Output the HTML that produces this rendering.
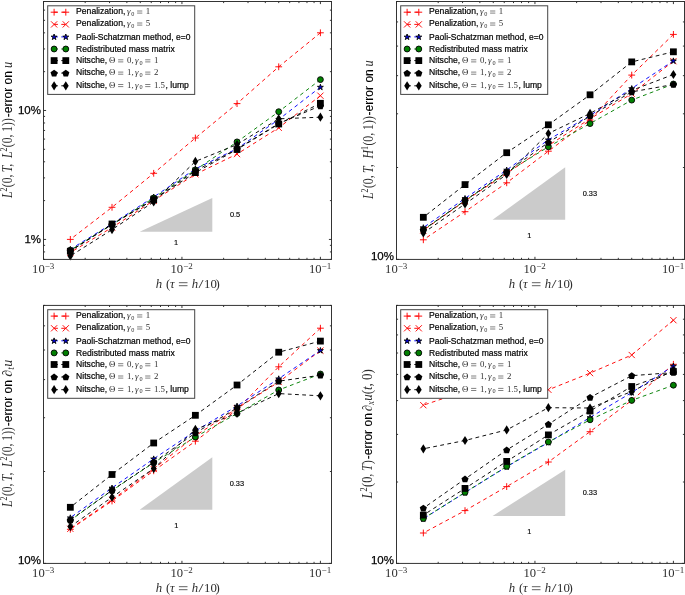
<!DOCTYPE html>
<html><head><meta charset="utf-8"><title>Convergence curves</title>
<style>html,body{margin:0;padding:0;background:#fff;}svg{display:block;}</style></head>
<body>
<svg width="685" height="595" viewBox="0 0 685 595">
<rect width="685" height="595" fill="#fff"/>
<g opacity="0.999">
<polygon points="139.7,231.7 212.3,231.7 212.3,198" fill="#cbcbcb"/>
<text x="176.1" y="244.6" text-anchor="middle" font-family='"Liberation Sans", sans-serif' font-size="7.4" fill="#000" stroke="#000" stroke-width="0.15">1</text>
<text x="235.1" y="216.9" text-anchor="middle" font-family='"Liberation Sans", sans-serif' font-size="7.4" fill="#000" stroke="#000" stroke-width="0.15">0.5</text>
<path d="M320.4 32.8L278.72 66.8L237.04 103.6L195.37 138L153.69 173.3L112.01 207.3L70.33 239.4" stroke="#ff0000" stroke-width="0.95" stroke-dasharray="3.8 3.4" fill="none"/>
<path d="M317 32.8H323.8M320.4 29.4V36.2" stroke="#ff0000" stroke-width="0.95" fill="none"/>
<path d="M275.32 66.8H282.12M278.72 63.4V70.2" stroke="#ff0000" stroke-width="0.95" fill="none"/>
<path d="M233.64 103.6H240.44M237.04 100.2V107" stroke="#ff0000" stroke-width="0.95" fill="none"/>
<path d="M191.97 138H198.77M195.37 134.6V141.4" stroke="#ff0000" stroke-width="0.95" fill="none"/>
<path d="M150.29 173.3H157.09M153.69 169.9V176.7" stroke="#ff0000" stroke-width="0.95" fill="none"/>
<path d="M108.61 207.3H115.41M112.01 203.9V210.7" stroke="#ff0000" stroke-width="0.95" fill="none"/>
<path d="M66.93 239.4H73.73M70.33 236V242.8" stroke="#ff0000" stroke-width="0.95" fill="none"/>
<path d="M320.4 95.7L278.72 127.8L237.04 154.1L195.37 174.3L153.69 200.6L112.01 227.5L70.33 252.5" stroke="#ff0000" stroke-width="0.95" stroke-dasharray="3.8 3.4" fill="none"/>
<path d="M317.3 92.6L323.5 98.8M317.3 98.8L323.5 92.6" stroke="#ff0000" stroke-width="0.95" fill="none"/>
<path d="M275.62 124.7L281.82 130.9M275.62 130.9L281.82 124.7" stroke="#ff0000" stroke-width="0.95" fill="none"/>
<path d="M233.94 151L240.14 157.2M233.94 157.2L240.14 151" stroke="#ff0000" stroke-width="0.95" fill="none"/>
<path d="M192.27 171.2L198.47 177.4M192.27 177.4L198.47 171.2" stroke="#ff0000" stroke-width="0.95" fill="none"/>
<path d="M150.59 197.5L156.79 203.7M150.59 203.7L156.79 197.5" stroke="#ff0000" stroke-width="0.95" fill="none"/>
<path d="M108.91 224.4L115.11 230.6M108.91 230.6L115.11 224.4" stroke="#ff0000" stroke-width="0.95" fill="none"/>
<path d="M67.23 249.4L73.43 255.6M67.23 255.6L73.43 249.4" stroke="#ff0000" stroke-width="0.95" fill="none"/>
<path d="M320.4 87.1L278.72 119.5L237.04 148.7L195.37 168.9L153.69 197L112.01 223.8L70.33 249.3" stroke="#0000ff" stroke-width="0.95" stroke-dasharray="3.8 3.4" fill="none"/>
<polygon points="320.4,84.2 321.11,86.33 323.35,86.34 321.54,87.67 322.22,89.81 320.4,88.5 318.58,89.81 319.26,87.67 317.45,86.34 319.69,86.33" fill="#0000e0" stroke="#000" stroke-width="0.9" stroke-linejoin="miter"/>
<polygon points="278.72,116.6 279.43,118.73 281.67,118.74 279.86,120.07 280.54,122.21 278.72,120.9 276.9,122.21 277.58,120.07 275.77,118.74 278.02,118.73" fill="#0000e0" stroke="#000" stroke-width="0.9" stroke-linejoin="miter"/>
<polygon points="237.04,145.8 237.75,147.93 239.99,147.94 238.19,149.27 238.87,151.41 237.04,150.1 235.22,151.41 235.9,149.27 234.1,147.94 236.34,147.93" fill="#0000e0" stroke="#000" stroke-width="0.9" stroke-linejoin="miter"/>
<polygon points="195.37,166 196.07,168.13 198.32,168.14 196.51,169.47 197.19,171.61 195.37,170.3 193.55,171.61 194.23,169.47 192.42,168.14 194.66,168.13" fill="#0000e0" stroke="#000" stroke-width="0.9" stroke-linejoin="miter"/>
<polygon points="153.69,194.1 154.39,196.23 156.64,196.24 154.83,197.57 155.51,199.71 153.69,198.4 151.87,199.71 152.55,197.57 150.74,196.24 152.98,196.23" fill="#0000e0" stroke="#000" stroke-width="0.9" stroke-linejoin="miter"/>
<polygon points="112.01,220.9 112.72,223.03 114.96,223.04 113.15,224.37 113.83,226.51 112.01,225.2 110.19,226.51 110.87,224.37 109.06,223.04 111.31,223.03" fill="#0000e0" stroke="#000" stroke-width="0.9" stroke-linejoin="miter"/>
<polygon points="70.33,246.4 71.04,248.53 73.28,248.54 71.48,249.87 72.16,252.01 70.33,250.7 68.51,252.01 69.19,249.87 67.39,248.54 69.63,248.53" fill="#0000e0" stroke="#000" stroke-width="0.9" stroke-linejoin="miter"/>
<path d="M320.4 79.6L278.72 111.7L237.04 141.9L195.37 170L153.69 198L112.01 224.5L70.33 250.2" stroke="#008000" stroke-width="0.95" stroke-dasharray="3.8 3.4" fill="none"/>
<circle cx="320.4" cy="79.6" r="2.95" fill="#008000" stroke="#000" stroke-width="0.9"/>
<circle cx="278.72" cy="111.7" r="2.95" fill="#008000" stroke="#000" stroke-width="0.9"/>
<circle cx="237.04" cy="141.9" r="2.95" fill="#008000" stroke="#000" stroke-width="0.9"/>
<circle cx="195.37" cy="170" r="2.95" fill="#008000" stroke="#000" stroke-width="0.9"/>
<circle cx="153.69" cy="198" r="2.95" fill="#008000" stroke="#000" stroke-width="0.9"/>
<circle cx="112.01" cy="224.5" r="2.95" fill="#008000" stroke="#000" stroke-width="0.9"/>
<circle cx="70.33" cy="250.2" r="2.95" fill="#008000" stroke="#000" stroke-width="0.9"/>
<path d="M320.4 103.3L278.72 124L237.04 149.5L195.37 172.6L153.69 199.7L112.01 224L70.33 251.2" stroke="#000000" stroke-width="0.95" stroke-dasharray="3.8 3.4" fill="none"/>
<rect x="317" y="99.9" width="6.8" height="6.8" fill="#000"/>
<rect x="275.32" y="120.6" width="6.8" height="6.8" fill="#000"/>
<rect x="233.64" y="146.1" width="6.8" height="6.8" fill="#000"/>
<rect x="191.97" y="169.2" width="6.8" height="6.8" fill="#000"/>
<rect x="150.29" y="196.3" width="6.8" height="6.8" fill="#000"/>
<rect x="108.61" y="220.6" width="6.8" height="6.8" fill="#000"/>
<rect x="66.93" y="247.8" width="6.8" height="6.8" fill="#000"/>
<path d="M320.4 105.8L278.72 123.5L237.04 149L195.37 170.8L153.69 199.5L112.01 224.5L70.33 251" stroke="#000000" stroke-width="0.95" stroke-dasharray="3.8 3.4" fill="none"/>
<polygon points="320.4,102.35 323.97,104.94 322.6,109.13 318.2,109.13 316.83,104.94" fill="#000"/>
<polygon points="278.72,120.05 282.29,122.64 280.93,126.83 276.52,126.83 275.16,122.64" fill="#000"/>
<polygon points="237.04,145.55 240.61,148.14 239.25,152.33 234.84,152.33 233.48,148.14" fill="#000"/>
<polygon points="195.37,167.35 198.93,169.94 197.57,174.13 193.16,174.13 191.8,169.94" fill="#000"/>
<polygon points="153.69,196.05 157.26,198.64 155.89,202.83 151.49,202.83 150.12,198.64" fill="#000"/>
<polygon points="112.01,221.05 115.58,223.64 114.22,227.83 109.81,227.83 108.45,223.64" fill="#000"/>
<polygon points="70.33,247.55 73.9,250.14 72.54,254.33 68.13,254.33 66.77,250.14" fill="#000"/>
<path d="M320.4 117.2L278.72 118.8L237.04 144.5L195.37 161.4L153.69 201.9L112.01 229.6L70.33 256" stroke="#000000" stroke-width="0.95" stroke-dasharray="3.8 3.4" fill="none"/>
<polygon points="320.4,112.6 323.3,117.2 320.4,121.8 317.5,117.2" fill="#000"/>
<polygon points="278.72,114.2 281.62,118.8 278.72,123.4 275.82,118.8" fill="#000"/>
<polygon points="237.04,139.9 239.94,144.5 237.04,149.1 234.14,144.5" fill="#000"/>
<polygon points="195.37,156.8 198.27,161.4 195.37,166 192.47,161.4" fill="#000"/>
<polygon points="153.69,197.3 156.59,201.9 153.69,206.5 150.79,201.9" fill="#000"/>
<polygon points="112.01,225 114.91,229.6 112.01,234.2 109.11,229.6" fill="#000"/>
<polygon points="70.33,251.4 73.23,256 70.33,260.6 67.43,256" fill="#000"/>
<path d="M43.5 259.4v-2.6M43.5 1.5v2.6M85.18 259.4v-1.6M85.18 1.5v1.6M109.56 259.4v-1.6M109.56 1.5v1.6M126.86 259.4v-1.6M126.86 1.5v1.6M140.27 259.4v-1.6M140.27 1.5v1.6M151.24 259.4v-1.6M151.24 1.5v1.6M160.5 259.4v-1.6M160.5 1.5v1.6M168.53 259.4v-1.6M168.53 1.5v1.6M175.61 259.4v-1.6M175.61 1.5v1.6M181.95 259.4v-2.6M181.95 1.5v2.6M223.63 259.4v-1.6M223.63 1.5v1.6M248.01 259.4v-1.6M248.01 1.5v1.6M265.31 259.4v-1.6M265.31 1.5v1.6M278.72 259.4v-1.6M278.72 1.5v1.6M289.69 259.4v-1.6M289.69 1.5v1.6M298.95 259.4v-1.6M298.95 1.5v1.6M306.98 259.4v-1.6M306.98 1.5v1.6M314.06 259.4v-1.6M314.06 1.5v1.6M320.4 259.4v-2.6M320.4 1.5v2.6M43.5 259.4h1.6M331.5 259.4h-1.6M43.5 251.92h1.6M331.5 251.92h-1.6M43.5 245.33h1.6M331.5 245.33h-1.6M43.5 239.43h2.6M331.5 239.43h-2.6M43.5 200.61h1.6M331.5 200.61h-1.6M43.5 177.9h1.6M331.5 177.9h-1.6M43.5 161.79h1.6M331.5 161.79h-1.6M43.5 149.29h1.6M331.5 149.29h-1.6M43.5 139.08h1.6M331.5 139.08h-1.6M43.5 130.45h1.6M331.5 130.45h-1.6M43.5 122.97h1.6M331.5 122.97h-1.6M43.5 116.38h1.6M331.5 116.38h-1.6M43.5 110.48h2.6M331.5 110.48h-2.6M43.5 71.66h1.6M331.5 71.66h-1.6M43.5 48.95h1.6M331.5 48.95h-1.6M43.5 32.84h1.6M331.5 32.84h-1.6M43.5 20.34h1.6M331.5 20.34h-1.6M43.5 10.13h1.6M331.5 10.13h-1.6M43.5 1.5h1.6M331.5 1.5h-1.6" stroke="#000" stroke-width="0.8" fill="none"/>
<rect x="47.7" y="5.8" width="147" height="88.6" fill="#fff" stroke="#444" stroke-width="1"/>
<path d="M54.1 12.2H65.8" stroke="#ff0000" stroke-width="0.95" stroke-dasharray="3.8 3.4" fill="none"/>
<path d="M50.7 12.2H57.5M54.1 8.8V15.6" stroke="#ff0000" stroke-width="0.95" fill="none"/>
<path d="M62.4 12.2H69.2M65.8 8.8V15.6" stroke="#ff0000" stroke-width="0.95" fill="none"/>
<text y="14.3" font-family='"Liberation Sans", sans-serif' font-size="8.6" fill="#000" stroke="#000" stroke-width="0.2"><tspan x="76.1">Penalization,</tspan><tspan x="126.9" dy="0" font-family='"Liberation Serif", serif' font-size="8.8" fill="#2e2e2e" stroke="none" font-style="italic">γ</tspan><tspan x="131.3" dy="1.5" font-family='"Liberation Serif", serif' font-size="6.2" fill="#2e2e2e" stroke="none">0</tspan><tspan x="145.8" dy="-1.5" font-family='"Liberation Serif", serif' font-size="8.8" fill="#2e2e2e" stroke="none">1</tspan></text>
<path d="M54.1 24.4H65.8" stroke="#ff0000" stroke-width="0.95" stroke-dasharray="3.8 3.4" fill="none"/>
<path d="M51 21.3L57.2 27.5M51 27.5L57.2 21.3" stroke="#ff0000" stroke-width="0.95" fill="none"/>
<path d="M62.7 21.3L68.9 27.5M62.7 27.5L68.9 21.3" stroke="#ff0000" stroke-width="0.95" fill="none"/>
<text y="26.3" font-family='"Liberation Sans", sans-serif' font-size="8.6" fill="#000" stroke="#000" stroke-width="0.2"><tspan x="76.1">Penalization,</tspan><tspan x="126.9" dy="0" font-family='"Liberation Serif", serif' font-size="8.8" fill="#2e2e2e" stroke="none" font-style="italic">γ</tspan><tspan x="131.3" dy="1.5" font-family='"Liberation Serif", serif' font-size="6.2" fill="#2e2e2e" stroke="none">0</tspan><tspan x="145.8" dy="-1.5" font-family='"Liberation Serif", serif' font-size="8.8" fill="#2e2e2e" stroke="none">5</tspan></text>
<path d="M54.1 36.9H65.8" stroke="#0000ff" stroke-width="0.95" stroke-dasharray="3.8 3.4" fill="none"/>
<polygon points="54.1,34 54.81,36.13 57.05,36.14 55.24,37.47 55.92,39.61 54.1,38.3 52.28,39.61 52.96,37.47 51.15,36.14 53.39,36.13" fill="#0000e0" stroke="#000" stroke-width="0.9" stroke-linejoin="miter"/>
<polygon points="65.8,34 66.51,36.13 68.75,36.14 66.94,37.47 67.62,39.61 65.8,38.3 63.98,39.61 64.66,37.47 62.85,36.14 65.09,36.13" fill="#0000e0" stroke="#000" stroke-width="0.9" stroke-linejoin="miter"/>
<text y="39.9" font-family='"Liberation Sans", sans-serif' font-size="8.6" fill="#000" stroke="#000" stroke-width="0.2"><tspan x="76.1" textLength="114.3" lengthAdjust="spacingAndGlyphs">Paoli-Schatzman method, e=0</tspan></text>
<path d="M54.1 49H65.8" stroke="#008000" stroke-width="0.95" stroke-dasharray="3.8 3.4" fill="none"/>
<circle cx="54.1" cy="49" r="2.95" fill="#008000" stroke="#000" stroke-width="0.9"/>
<circle cx="65.8" cy="49" r="2.95" fill="#008000" stroke="#000" stroke-width="0.9"/>
<text y="51.7" font-family='"Liberation Sans", sans-serif' font-size="8.6" fill="#000" stroke="#000" stroke-width="0.2"><tspan x="76.1" textLength="98.6" lengthAdjust="spacingAndGlyphs">Redistributed mass matrix</tspan></text>
<path d="M54.1 60.6H65.8" stroke="#000000" stroke-width="0.95" stroke-dasharray="3.8 3.4" fill="none"/>
<rect x="50.7" y="57.2" width="6.8" height="6.8" fill="#000"/>
<rect x="62.4" y="57.2" width="6.8" height="6.8" fill="#000"/>
<text y="63.1" font-family='"Liberation Sans", sans-serif' font-size="8.6" fill="#000" stroke="#000" stroke-width="0.2"><tspan x="76.1">Nitsche,</tspan><tspan x="108.9" dy="0" font-family='"Liberation Serif", serif' font-size="8.8" fill="#2e2e2e" stroke="none">Θ</tspan><tspan x="127" dy="0" font-family='"Liberation Serif", serif' font-size="8.8" fill="#2e2e2e" stroke="none">0,</tspan><tspan x="135" dy="0" font-family='"Liberation Serif", serif' font-size="8.8" fill="#2e2e2e" stroke="none" font-style="italic">γ</tspan><tspan x="139.4" dy="1.5" font-family='"Liberation Serif", serif' font-size="6.2" fill="#2e2e2e" stroke="none">0</tspan><tspan x="153.9" dy="-1.5" font-family='"Liberation Serif", serif' font-size="8.8" fill="#2e2e2e" stroke="none">1</tspan></text>
<path d="M54.1 73.1H65.8" stroke="#000000" stroke-width="0.95" stroke-dasharray="3.8 3.4" fill="none"/>
<polygon points="54.1,69.65 57.67,72.24 56.3,76.43 51.9,76.43 50.53,72.24" fill="#000"/>
<polygon points="65.8,69.65 69.37,72.24 68,76.43 63.6,76.43 62.23,72.24" fill="#000"/>
<text y="75.4" font-family='"Liberation Sans", sans-serif' font-size="8.6" fill="#000" stroke="#000" stroke-width="0.2"><tspan x="76.1">Nitsche,</tspan><tspan x="108.9" dy="0" font-family='"Liberation Serif", serif' font-size="8.8" fill="#2e2e2e" stroke="none">Θ</tspan><tspan x="127" dy="0" font-family='"Liberation Serif", serif' font-size="8.8" fill="#2e2e2e" stroke="none">1,</tspan><tspan x="135" dy="0" font-family='"Liberation Serif", serif' font-size="8.8" fill="#2e2e2e" stroke="none" font-style="italic">γ</tspan><tspan x="139.4" dy="1.5" font-family='"Liberation Serif", serif' font-size="6.2" fill="#2e2e2e" stroke="none">0</tspan><tspan x="153.9" dy="-1.5" font-family='"Liberation Serif", serif' font-size="8.8" fill="#2e2e2e" stroke="none">2</tspan></text>
<path d="M54.1 85.8H65.8" stroke="#000000" stroke-width="0.95" stroke-dasharray="3.8 3.4" fill="none"/>
<polygon points="54.1,81.2 57,85.8 54.1,90.4 51.2,85.8" fill="#000"/>
<polygon points="65.8,81.2 68.7,85.8 65.8,90.4 62.9,85.8" fill="#000"/>
<text y="87.8" font-family='"Liberation Sans", sans-serif' font-size="8.6" fill="#000" stroke="#000" stroke-width="0.2"><tspan x="76.1">Nitsche,</tspan><tspan x="108.9" dy="0" font-family='"Liberation Serif", serif' font-size="8.8" fill="#2e2e2e" stroke="none">Θ</tspan><tspan x="127" dy="0" font-family='"Liberation Serif", serif' font-size="8.8" fill="#2e2e2e" stroke="none">1,</tspan><tspan x="135" dy="0" font-family='"Liberation Serif", serif' font-size="8.8" fill="#2e2e2e" stroke="none" font-style="italic">γ</tspan><tspan x="139.4" dy="1.5" font-family='"Liberation Serif", serif' font-size="6.2" fill="#2e2e2e" stroke="none">0</tspan><tspan x="153.9" dy="-1.5" font-family='"Liberation Serif", serif' font-size="8.8" fill="#2e2e2e" stroke="none">1.5</tspan><tspan x="165.5">, lump</tspan></text>
<path d="M145.2 84.5h5.2M145.2 86.6h5.2" stroke="#2e2e2e" stroke-width="0.6" fill="none"/>
<path d="M118.1 84.5h5.2M118.1 86.6h5.2" stroke="#2e2e2e" stroke-width="0.6" fill="none"/>
<path d="M145.2 72.1h5.2M145.2 74.2h5.2" stroke="#2e2e2e" stroke-width="0.6" fill="none"/>
<path d="M118.1 72.1h5.2M118.1 74.2h5.2" stroke="#2e2e2e" stroke-width="0.6" fill="none"/>
<path d="M145.2 59.8h5.2M145.2 61.9h5.2" stroke="#2e2e2e" stroke-width="0.6" fill="none"/>
<path d="M118.1 59.8h5.2M118.1 61.9h5.2" stroke="#2e2e2e" stroke-width="0.6" fill="none"/>
<path d="M137.1 23h5.2M137.1 25.1h5.2" stroke="#2e2e2e" stroke-width="0.6" fill="none"/>
<path d="M137.1 11h5.2M137.1 13.1h5.2" stroke="#2e2e2e" stroke-width="0.6" fill="none"/>
<rect x="43.5" y="1.5" width="288" height="257.9" fill="none" stroke="#2a2a2a" stroke-width="0.95"/>
<text x="41" y="113.68" text-anchor="end" font-family='"Liberation Sans", sans-serif' font-size="11.5" fill="#000" stroke="#000" stroke-width="0.25">10%</text>
<text x="41" y="242.63" text-anchor="end" font-family='"Liberation Sans", sans-serif' font-size="11.5" fill="#000" stroke="#000" stroke-width="0.25">1%</text>
<text x="43.2" y="273.4" text-anchor="middle" font-family='"Liberation Serif", serif' font-size="12.6" fill="#2e2e2e">10<tspan font-size="9" dy="-4.5">−3</tspan></text>
<text x="181.65" y="273.4" text-anchor="middle" font-family='"Liberation Serif", serif' font-size="12.6" fill="#2e2e2e">10<tspan font-size="9" dy="-4.5">−2</tspan></text>
<text x="320.1" y="273.4" text-anchor="middle" font-family='"Liberation Serif", serif' font-size="12.6" fill="#2e2e2e">10<tspan font-size="9" dy="-4.5">−1</tspan></text>
<path d="M178.9 282.7h8.6M178.9 285.7h8.6" stroke="#2e2e2e" stroke-width="0.75" fill="none"/>
<text y="287.5" font-family='"Liberation Serif", serif' font-size="12.8" fill="#2e2e2e"><tspan x="155.8" font-style="italic">h</tspan><tspan x="166.1">(</tspan><tspan x="169.9" font-style="italic">τ</tspan><tspan x="191.8" font-style="italic">h</tspan><tspan x="198.4" textLength="5" lengthAdjust="spacingAndGlyphs">/</tspan><tspan x="204">10</tspan><tspan x="215.4">)</tspan></text>
<g transform="translate(11.7 198) rotate(-90)">
<text x="0" y="0" font-family='"Liberation Serif", serif' font-size="13.8" fill="#2e2e2e" textLength="79.8" lengthAdjust="spacingAndGlyphs"><tspan font-style="italic">L</tspan><tspan font-size="9.4" dy="-5">2</tspan><tspan dy="5" font-size="2"> </tspan>(0,<tspan font-style="italic"> T,</tspan><tspan font-style="italic"> L</tspan><tspan font-size="9.4" dy="-5">2</tspan><tspan dy="5" font-size="2"> </tspan>(0, 1))</text>
<text x="80.8" y="0" font-family='"Liberation Sans", sans-serif' font-size="12" fill="#000" stroke="#000" stroke-width="0.12" textLength="46.2" lengthAdjust="spacingAndGlyphs">-error on</text>
<text x="130" y="0" font-family='"Liberation Serif", serif' font-size="13.8" fill="#2e2e2e" textLength="6.2" lengthAdjust="spacingAndGlyphs"><tspan font-style="italic">u</tspan></text>
</g>
<polygon points="492.6,219.7 565.2,219.7 565.2,167.2" fill="#cbcbcb"/>
<text x="529.2" y="237.9" text-anchor="middle" font-family='"Liberation Sans", sans-serif' font-size="7.4" fill="#000" stroke="#000" stroke-width="0.15">1</text>
<text x="589.9" y="195.5" text-anchor="middle" font-family='"Liberation Sans", sans-serif' font-size="7.4" fill="#000" stroke="#000" stroke-width="0.15">0.33</text>
<path d="M673.4 34.4L631.72 75.1L590.04 120L548.37 151.2L506.69 182.8L465.01 211.7L423.33 239.8" stroke="#ff0000" stroke-width="0.95" stroke-dasharray="3.8 3.4" fill="none"/>
<path d="M670 34.4H676.8M673.4 31V37.8" stroke="#ff0000" stroke-width="0.95" fill="none"/>
<path d="M628.32 75.1H635.12M631.72 71.7V78.5" stroke="#ff0000" stroke-width="0.95" fill="none"/>
<path d="M586.64 120H593.44M590.04 116.6V123.4" stroke="#ff0000" stroke-width="0.95" fill="none"/>
<path d="M544.97 151.2H551.77M548.37 147.8V154.6" stroke="#ff0000" stroke-width="0.95" fill="none"/>
<path d="M503.29 182.8H510.09M506.69 179.4V186.2" stroke="#ff0000" stroke-width="0.95" fill="none"/>
<path d="M461.61 211.7H468.41M465.01 208.3V215.1" stroke="#ff0000" stroke-width="0.95" fill="none"/>
<path d="M419.93 239.8H426.73M423.33 236.4V243.2" stroke="#ff0000" stroke-width="0.95" fill="none"/>
<path d="M673.4 61.2L631.72 93.7L590.04 118.8L548.37 145.5L506.69 173.3L465.01 201L423.33 230.3" stroke="#ff0000" stroke-width="0.95" stroke-dasharray="3.8 3.4" fill="none"/>
<path d="M670.3 58.1L676.5 64.3M670.3 64.3L676.5 58.1" stroke="#ff0000" stroke-width="0.95" fill="none"/>
<path d="M628.62 90.6L634.82 96.8M628.62 96.8L634.82 90.6" stroke="#ff0000" stroke-width="0.95" fill="none"/>
<path d="M586.94 115.7L593.14 121.9M586.94 121.9L593.14 115.7" stroke="#ff0000" stroke-width="0.95" fill="none"/>
<path d="M545.27 142.4L551.47 148.6M545.27 148.6L551.47 142.4" stroke="#ff0000" stroke-width="0.95" fill="none"/>
<path d="M503.59 170.2L509.79 176.4M503.59 176.4L509.79 170.2" stroke="#ff0000" stroke-width="0.95" fill="none"/>
<path d="M461.91 197.9L468.11 204.1M461.91 204.1L468.11 197.9" stroke="#ff0000" stroke-width="0.95" fill="none"/>
<path d="M420.23 227.2L426.43 233.4M420.23 233.4L426.43 227.2" stroke="#ff0000" stroke-width="0.95" fill="none"/>
<path d="M673.4 60.8L631.72 88.5L590.04 115.5L548.37 139.8L506.69 170L465.01 198.4L423.33 227.6" stroke="#0000ff" stroke-width="0.95" stroke-dasharray="3.8 3.4" fill="none"/>
<polygon points="673.4,57.9 674.11,60.03 676.35,60.04 674.54,61.37 675.22,63.51 673.4,62.2 671.58,63.51 672.26,61.37 670.45,60.04 672.69,60.03" fill="#0000e0" stroke="#000" stroke-width="0.9" stroke-linejoin="miter"/>
<polygon points="631.72,85.6 632.43,87.73 634.67,87.74 632.86,89.07 633.54,91.21 631.72,89.9 629.9,91.21 630.58,89.07 628.77,87.74 631.02,87.73" fill="#0000e0" stroke="#000" stroke-width="0.9" stroke-linejoin="miter"/>
<polygon points="590.04,112.6 590.75,114.73 592.99,114.74 591.19,116.07 591.87,118.21 590.04,116.9 588.22,118.21 588.9,116.07 587.1,114.74 589.34,114.73" fill="#0000e0" stroke="#000" stroke-width="0.9" stroke-linejoin="miter"/>
<polygon points="548.37,136.9 549.07,139.03 551.32,139.04 549.51,140.37 550.19,142.51 548.37,141.2 546.55,142.51 547.23,140.37 545.42,139.04 547.66,139.03" fill="#0000e0" stroke="#000" stroke-width="0.9" stroke-linejoin="miter"/>
<polygon points="506.69,167.1 507.39,169.23 509.64,169.24 507.83,170.57 508.51,172.71 506.69,171.4 504.87,172.71 505.55,170.57 503.74,169.24 505.98,169.23" fill="#0000e0" stroke="#000" stroke-width="0.9" stroke-linejoin="miter"/>
<polygon points="465.01,195.5 465.72,197.63 467.96,197.64 466.15,198.97 466.83,201.11 465.01,199.8 463.19,201.11 463.87,198.97 462.06,197.64 464.31,197.63" fill="#0000e0" stroke="#000" stroke-width="0.9" stroke-linejoin="miter"/>
<polygon points="423.33,224.7 424.04,226.83 426.28,226.84 424.48,228.17 425.16,230.31 423.33,229 421.51,230.31 422.19,228.17 420.39,226.84 422.63,226.83" fill="#0000e0" stroke="#000" stroke-width="0.9" stroke-linejoin="miter"/>
<path d="M673.4 84L631.72 100.1L590.04 123.6L548.37 146.8L506.69 172.5L465.01 200.5L423.33 229.8" stroke="#008000" stroke-width="0.95" stroke-dasharray="3.8 3.4" fill="none"/>
<circle cx="673.4" cy="84" r="2.95" fill="#008000" stroke="#000" stroke-width="0.9"/>
<circle cx="631.72" cy="100.1" r="2.95" fill="#008000" stroke="#000" stroke-width="0.9"/>
<circle cx="590.04" cy="123.6" r="2.95" fill="#008000" stroke="#000" stroke-width="0.9"/>
<circle cx="548.37" cy="146.8" r="2.95" fill="#008000" stroke="#000" stroke-width="0.9"/>
<circle cx="506.69" cy="172.5" r="2.95" fill="#008000" stroke="#000" stroke-width="0.9"/>
<circle cx="465.01" cy="200.5" r="2.95" fill="#008000" stroke="#000" stroke-width="0.9"/>
<circle cx="423.33" cy="229.8" r="2.95" fill="#008000" stroke="#000" stroke-width="0.9"/>
<path d="M673.4 51.8L631.72 61.9L590.04 94.8L548.37 124.8L506.69 152.7L465.01 184.6L423.33 217.3" stroke="#000000" stroke-width="0.95" stroke-dasharray="3.8 3.4" fill="none"/>
<rect x="670" y="48.4" width="6.8" height="6.8" fill="#000"/>
<rect x="628.32" y="58.5" width="6.8" height="6.8" fill="#000"/>
<rect x="586.64" y="91.4" width="6.8" height="6.8" fill="#000"/>
<rect x="544.97" y="121.4" width="6.8" height="6.8" fill="#000"/>
<rect x="503.29" y="149.3" width="6.8" height="6.8" fill="#000"/>
<rect x="461.61" y="181.2" width="6.8" height="6.8" fill="#000"/>
<rect x="419.93" y="213.9" width="6.8" height="6.8" fill="#000"/>
<path d="M673.4 84.5L631.72 91.9L590.04 116L548.37 142.5L506.69 172L465.01 200.5L423.33 230" stroke="#000000" stroke-width="0.95" stroke-dasharray="3.8 3.4" fill="none"/>
<polygon points="673.4,81.05 676.97,83.64 675.6,87.83 671.2,87.83 669.83,83.64" fill="#000"/>
<polygon points="631.72,88.45 635.29,91.04 633.93,95.23 629.52,95.23 628.16,91.04" fill="#000"/>
<polygon points="590.04,112.55 593.61,115.14 592.25,119.33 587.84,119.33 586.48,115.14" fill="#000"/>
<polygon points="548.37,139.05 551.93,141.64 550.57,145.83 546.16,145.83 544.8,141.64" fill="#000"/>
<polygon points="506.69,168.55 510.26,171.14 508.89,175.33 504.49,175.33 503.12,171.14" fill="#000"/>
<polygon points="465.01,197.05 468.58,199.64 467.22,203.83 462.81,203.83 461.45,199.64" fill="#000"/>
<polygon points="423.33,226.55 426.9,229.14 425.54,233.33 421.13,233.33 419.77,229.14" fill="#000"/>
<path d="M673.4 74.5L631.72 90.4L590.04 113.4L548.37 133.5L506.69 174.5L465.01 204L423.33 233" stroke="#000000" stroke-width="0.95" stroke-dasharray="3.8 3.4" fill="none"/>
<polygon points="673.4,69.9 676.3,74.5 673.4,79.1 670.5,74.5" fill="#000"/>
<polygon points="631.72,85.8 634.62,90.4 631.72,95 628.82,90.4" fill="#000"/>
<polygon points="590.04,108.8 592.94,113.4 590.04,118 587.14,113.4" fill="#000"/>
<polygon points="548.37,128.9 551.27,133.5 548.37,138.1 545.47,133.5" fill="#000"/>
<polygon points="506.69,169.9 509.59,174.5 506.69,179.1 503.79,174.5" fill="#000"/>
<polygon points="465.01,199.4 467.91,204 465.01,208.6 462.11,204" fill="#000"/>
<polygon points="423.33,228.4 426.23,233 423.33,237.6 420.43,233" fill="#000"/>
<path d="M396.5 259.4v-2.6M396.5 1.5v2.6M438.18 259.4v-1.6M438.18 1.5v1.6M462.56 259.4v-1.6M462.56 1.5v1.6M479.86 259.4v-1.6M479.86 1.5v1.6M493.27 259.4v-1.6M493.27 1.5v1.6M504.24 259.4v-1.6M504.24 1.5v1.6M513.5 259.4v-1.6M513.5 1.5v1.6M521.53 259.4v-1.6M521.53 1.5v1.6M528.61 259.4v-1.6M528.61 1.5v1.6M534.95 259.4v-2.6M534.95 1.5v2.6M576.63 259.4v-1.6M576.63 1.5v1.6M601.01 259.4v-1.6M601.01 1.5v1.6M618.31 259.4v-1.6M618.31 1.5v1.6M631.72 259.4v-1.6M631.72 1.5v1.6M642.69 259.4v-1.6M642.69 1.5v1.6M651.95 259.4v-1.6M651.95 1.5v1.6M659.98 259.4v-1.6M659.98 1.5v1.6M667.06 259.4v-1.6M667.06 1.5v1.6M673.4 259.4v-2.6M673.4 1.5v2.6M396.5 259.4h2.6M684.5 259.4h-2.6M396.5 167.53h1.6M684.5 167.53h-1.6M396.5 113.8h1.6M684.5 113.8h-1.6M396.5 75.67h1.6M684.5 75.67h-1.6M396.5 46.09h1.6M684.5 46.09h-1.6M396.5 21.93h1.6M684.5 21.93h-1.6M396.5 1.5h1.6M684.5 1.5h-1.6" stroke="#000" stroke-width="0.8" fill="none"/>
<rect x="400.7" y="5.8" width="147" height="88.6" fill="#fff" stroke="#444" stroke-width="1"/>
<path d="M407.1 12.2H418.8" stroke="#ff0000" stroke-width="0.95" stroke-dasharray="3.8 3.4" fill="none"/>
<path d="M403.7 12.2H410.5M407.1 8.8V15.6" stroke="#ff0000" stroke-width="0.95" fill="none"/>
<path d="M415.4 12.2H422.2M418.8 8.8V15.6" stroke="#ff0000" stroke-width="0.95" fill="none"/>
<text y="14.3" font-family='"Liberation Sans", sans-serif' font-size="8.6" fill="#000" stroke="#000" stroke-width="0.2"><tspan x="429.1">Penalization,</tspan><tspan x="479.9" dy="0" font-family='"Liberation Serif", serif' font-size="8.8" fill="#2e2e2e" stroke="none" font-style="italic">γ</tspan><tspan x="484.3" dy="1.5" font-family='"Liberation Serif", serif' font-size="6.2" fill="#2e2e2e" stroke="none">0</tspan><tspan x="498.8" dy="-1.5" font-family='"Liberation Serif", serif' font-size="8.8" fill="#2e2e2e" stroke="none">1</tspan></text>
<path d="M407.1 24.4H418.8" stroke="#ff0000" stroke-width="0.95" stroke-dasharray="3.8 3.4" fill="none"/>
<path d="M404 21.3L410.2 27.5M404 27.5L410.2 21.3" stroke="#ff0000" stroke-width="0.95" fill="none"/>
<path d="M415.7 21.3L421.9 27.5M415.7 27.5L421.9 21.3" stroke="#ff0000" stroke-width="0.95" fill="none"/>
<text y="26.3" font-family='"Liberation Sans", sans-serif' font-size="8.6" fill="#000" stroke="#000" stroke-width="0.2"><tspan x="429.1">Penalization,</tspan><tspan x="479.9" dy="0" font-family='"Liberation Serif", serif' font-size="8.8" fill="#2e2e2e" stroke="none" font-style="italic">γ</tspan><tspan x="484.3" dy="1.5" font-family='"Liberation Serif", serif' font-size="6.2" fill="#2e2e2e" stroke="none">0</tspan><tspan x="498.8" dy="-1.5" font-family='"Liberation Serif", serif' font-size="8.8" fill="#2e2e2e" stroke="none">5</tspan></text>
<path d="M407.1 36.9H418.8" stroke="#0000ff" stroke-width="0.95" stroke-dasharray="3.8 3.4" fill="none"/>
<polygon points="407.1,34 407.81,36.13 410.05,36.14 408.24,37.47 408.92,39.61 407.1,38.3 405.28,39.61 405.96,37.47 404.15,36.14 406.39,36.13" fill="#0000e0" stroke="#000" stroke-width="0.9" stroke-linejoin="miter"/>
<polygon points="418.8,34 419.51,36.13 421.75,36.14 419.94,37.47 420.62,39.61 418.8,38.3 416.98,39.61 417.66,37.47 415.85,36.14 418.09,36.13" fill="#0000e0" stroke="#000" stroke-width="0.9" stroke-linejoin="miter"/>
<text y="39.9" font-family='"Liberation Sans", sans-serif' font-size="8.6" fill="#000" stroke="#000" stroke-width="0.2"><tspan x="429.1" textLength="114.3" lengthAdjust="spacingAndGlyphs">Paoli-Schatzman method, e=0</tspan></text>
<path d="M407.1 49H418.8" stroke="#008000" stroke-width="0.95" stroke-dasharray="3.8 3.4" fill="none"/>
<circle cx="407.1" cy="49" r="2.95" fill="#008000" stroke="#000" stroke-width="0.9"/>
<circle cx="418.8" cy="49" r="2.95" fill="#008000" stroke="#000" stroke-width="0.9"/>
<text y="51.7" font-family='"Liberation Sans", sans-serif' font-size="8.6" fill="#000" stroke="#000" stroke-width="0.2"><tspan x="429.1" textLength="98.6" lengthAdjust="spacingAndGlyphs">Redistributed mass matrix</tspan></text>
<path d="M407.1 60.6H418.8" stroke="#000000" stroke-width="0.95" stroke-dasharray="3.8 3.4" fill="none"/>
<rect x="403.7" y="57.2" width="6.8" height="6.8" fill="#000"/>
<rect x="415.4" y="57.2" width="6.8" height="6.8" fill="#000"/>
<text y="63.1" font-family='"Liberation Sans", sans-serif' font-size="8.6" fill="#000" stroke="#000" stroke-width="0.2"><tspan x="429.1">Nitsche,</tspan><tspan x="461.9" dy="0" font-family='"Liberation Serif", serif' font-size="8.8" fill="#2e2e2e" stroke="none">Θ</tspan><tspan x="480" dy="0" font-family='"Liberation Serif", serif' font-size="8.8" fill="#2e2e2e" stroke="none">0,</tspan><tspan x="488" dy="0" font-family='"Liberation Serif", serif' font-size="8.8" fill="#2e2e2e" stroke="none" font-style="italic">γ</tspan><tspan x="492.4" dy="1.5" font-family='"Liberation Serif", serif' font-size="6.2" fill="#2e2e2e" stroke="none">0</tspan><tspan x="506.9" dy="-1.5" font-family='"Liberation Serif", serif' font-size="8.8" fill="#2e2e2e" stroke="none">1</tspan></text>
<path d="M407.1 73.1H418.8" stroke="#000000" stroke-width="0.95" stroke-dasharray="3.8 3.4" fill="none"/>
<polygon points="407.1,69.65 410.67,72.24 409.3,76.43 404.9,76.43 403.53,72.24" fill="#000"/>
<polygon points="418.8,69.65 422.37,72.24 421,76.43 416.6,76.43 415.23,72.24" fill="#000"/>
<text y="75.4" font-family='"Liberation Sans", sans-serif' font-size="8.6" fill="#000" stroke="#000" stroke-width="0.2"><tspan x="429.1">Nitsche,</tspan><tspan x="461.9" dy="0" font-family='"Liberation Serif", serif' font-size="8.8" fill="#2e2e2e" stroke="none">Θ</tspan><tspan x="480" dy="0" font-family='"Liberation Serif", serif' font-size="8.8" fill="#2e2e2e" stroke="none">1,</tspan><tspan x="488" dy="0" font-family='"Liberation Serif", serif' font-size="8.8" fill="#2e2e2e" stroke="none" font-style="italic">γ</tspan><tspan x="492.4" dy="1.5" font-family='"Liberation Serif", serif' font-size="6.2" fill="#2e2e2e" stroke="none">0</tspan><tspan x="506.9" dy="-1.5" font-family='"Liberation Serif", serif' font-size="8.8" fill="#2e2e2e" stroke="none">2</tspan></text>
<path d="M407.1 85.8H418.8" stroke="#000000" stroke-width="0.95" stroke-dasharray="3.8 3.4" fill="none"/>
<polygon points="407.1,81.2 410,85.8 407.1,90.4 404.2,85.8" fill="#000"/>
<polygon points="418.8,81.2 421.7,85.8 418.8,90.4 415.9,85.8" fill="#000"/>
<text y="87.8" font-family='"Liberation Sans", sans-serif' font-size="8.6" fill="#000" stroke="#000" stroke-width="0.2"><tspan x="429.1">Nitsche,</tspan><tspan x="461.9" dy="0" font-family='"Liberation Serif", serif' font-size="8.8" fill="#2e2e2e" stroke="none">Θ</tspan><tspan x="480" dy="0" font-family='"Liberation Serif", serif' font-size="8.8" fill="#2e2e2e" stroke="none">1,</tspan><tspan x="488" dy="0" font-family='"Liberation Serif", serif' font-size="8.8" fill="#2e2e2e" stroke="none" font-style="italic">γ</tspan><tspan x="492.4" dy="1.5" font-family='"Liberation Serif", serif' font-size="6.2" fill="#2e2e2e" stroke="none">0</tspan><tspan x="506.9" dy="-1.5" font-family='"Liberation Serif", serif' font-size="8.8" fill="#2e2e2e" stroke="none">1.5</tspan><tspan x="518.5">, lump</tspan></text>
<path d="M498.2 84.5h5.2M498.2 86.6h5.2" stroke="#2e2e2e" stroke-width="0.6" fill="none"/>
<path d="M471.1 84.5h5.2M471.1 86.6h5.2" stroke="#2e2e2e" stroke-width="0.6" fill="none"/>
<path d="M498.2 72.1h5.2M498.2 74.2h5.2" stroke="#2e2e2e" stroke-width="0.6" fill="none"/>
<path d="M471.1 72.1h5.2M471.1 74.2h5.2" stroke="#2e2e2e" stroke-width="0.6" fill="none"/>
<path d="M498.2 59.8h5.2M498.2 61.9h5.2" stroke="#2e2e2e" stroke-width="0.6" fill="none"/>
<path d="M471.1 59.8h5.2M471.1 61.9h5.2" stroke="#2e2e2e" stroke-width="0.6" fill="none"/>
<path d="M490.1 23h5.2M490.1 25.1h5.2" stroke="#2e2e2e" stroke-width="0.6" fill="none"/>
<path d="M490.1 11h5.2M490.1 13.1h5.2" stroke="#2e2e2e" stroke-width="0.6" fill="none"/>
<rect x="396.5" y="1.5" width="288" height="257.9" fill="none" stroke="#2a2a2a" stroke-width="0.95"/>
<text x="394" y="259.8" text-anchor="end" font-family='"Liberation Sans", sans-serif' font-size="11.5" fill="#000" stroke="#000" stroke-width="0.25">10%</text>
<text x="396.2" y="273.4" text-anchor="middle" font-family='"Liberation Serif", serif' font-size="12.6" fill="#2e2e2e">10<tspan font-size="9" dy="-4.5">−3</tspan></text>
<text x="534.65" y="273.4" text-anchor="middle" font-family='"Liberation Serif", serif' font-size="12.6" fill="#2e2e2e">10<tspan font-size="9" dy="-4.5">−2</tspan></text>
<text x="673.1" y="273.4" text-anchor="middle" font-family='"Liberation Serif", serif' font-size="12.6" fill="#2e2e2e">10<tspan font-size="9" dy="-4.5">−1</tspan></text>
<path d="M531.9 282.7h8.6M531.9 285.7h8.6" stroke="#2e2e2e" stroke-width="0.75" fill="none"/>
<text y="287.5" font-family='"Liberation Serif", serif' font-size="12.8" fill="#2e2e2e"><tspan x="508.8" font-style="italic">h</tspan><tspan x="519.1">(</tspan><tspan x="522.9" font-style="italic">τ</tspan><tspan x="544.8" font-style="italic">h</tspan><tspan x="551.4" textLength="5" lengthAdjust="spacingAndGlyphs">/</tspan><tspan x="557">10</tspan><tspan x="568.4">)</tspan></text>
<g transform="translate(373.2 199) rotate(-90)">
<text x="0" y="0" font-family='"Liberation Serif", serif' font-size="13.8" fill="#2e2e2e" textLength="82.8" lengthAdjust="spacingAndGlyphs"><tspan font-style="italic">L</tspan><tspan font-size="9.4" dy="-5">2</tspan><tspan dy="5" font-size="2"> </tspan>(0,<tspan font-style="italic"> T,</tspan><tspan font-style="italic"> H</tspan><tspan font-size="9.4" dy="-5">1</tspan><tspan dy="5" font-size="2"> </tspan>(0, 1))</text>
<text x="83.6" y="0" font-family='"Liberation Sans", sans-serif' font-size="12" fill="#000" stroke="#000" stroke-width="0.12" textLength="46.2" lengthAdjust="spacingAndGlyphs">-error on</text>
<text x="132.6" y="0" font-family='"Liberation Serif", serif' font-size="13.8" fill="#2e2e2e" textLength="6.2" lengthAdjust="spacingAndGlyphs"><tspan font-style="italic">u</tspan></text>
</g>
<polygon points="139.7,509.7 212.3,509.7 212.3,457.2" fill="#cbcbcb"/>
<text x="176.3" y="528.4" text-anchor="middle" font-family='"Liberation Sans", sans-serif' font-size="7.4" fill="#000" stroke="#000" stroke-width="0.15">1</text>
<text x="236.9" y="485.9" text-anchor="middle" font-family='"Liberation Sans", sans-serif' font-size="7.4" fill="#000" stroke="#000" stroke-width="0.15">0.33</text>
<path d="M320.4 328.2L278.72 366.8L237.04 409.5L195.37 441.2L153.69 470.8L112.01 501L70.33 529.3" stroke="#ff0000" stroke-width="0.95" stroke-dasharray="3.8 3.4" fill="none"/>
<path d="M317 328.2H323.8M320.4 324.8V331.6" stroke="#ff0000" stroke-width="0.95" fill="none"/>
<path d="M275.32 366.8H282.12M278.72 363.4V370.2" stroke="#ff0000" stroke-width="0.95" fill="none"/>
<path d="M233.64 409.5H240.44M237.04 406.1V412.9" stroke="#ff0000" stroke-width="0.95" fill="none"/>
<path d="M191.97 441.2H198.77M195.37 437.8V444.6" stroke="#ff0000" stroke-width="0.95" fill="none"/>
<path d="M150.29 470.8H157.09M153.69 467.4V474.2" stroke="#ff0000" stroke-width="0.95" fill="none"/>
<path d="M108.61 501H115.41M112.01 497.6V504.4" stroke="#ff0000" stroke-width="0.95" fill="none"/>
<path d="M66.93 529.3H73.73M70.33 525.9V532.7" stroke="#ff0000" stroke-width="0.95" fill="none"/>
<path d="M320.4 350.6L278.72 382L237.04 408.5L195.37 435.8L153.69 469L112.01 500L70.33 528.8" stroke="#ff0000" stroke-width="0.95" stroke-dasharray="3.8 3.4" fill="none"/>
<path d="M317.3 347.5L323.5 353.7M317.3 353.7L323.5 347.5" stroke="#ff0000" stroke-width="0.95" fill="none"/>
<path d="M275.62 378.9L281.82 385.1M275.62 385.1L281.82 378.9" stroke="#ff0000" stroke-width="0.95" fill="none"/>
<path d="M233.94 405.4L240.14 411.6M233.94 411.6L240.14 405.4" stroke="#ff0000" stroke-width="0.95" fill="none"/>
<path d="M192.27 432.7L198.47 438.9M192.27 438.9L198.47 432.7" stroke="#ff0000" stroke-width="0.95" fill="none"/>
<path d="M150.59 465.9L156.79 472.1M150.59 472.1L156.79 465.9" stroke="#ff0000" stroke-width="0.95" fill="none"/>
<path d="M108.91 496.9L115.11 503.1M108.91 503.1L115.11 496.9" stroke="#ff0000" stroke-width="0.95" fill="none"/>
<path d="M67.23 525.7L73.43 531.9M67.23 531.9L73.43 525.7" stroke="#ff0000" stroke-width="0.95" fill="none"/>
<path d="M320.4 350.4L278.72 378.7L237.04 406L195.37 431L153.69 458.8L112.01 487.9L70.33 517.7" stroke="#0000ff" stroke-width="0.95" stroke-dasharray="3.8 3.4" fill="none"/>
<polygon points="320.4,347.5 321.11,349.63 323.35,349.64 321.54,350.97 322.22,353.11 320.4,351.8 318.58,353.11 319.26,350.97 317.45,349.64 319.69,349.63" fill="#0000e0" stroke="#000" stroke-width="0.9" stroke-linejoin="miter"/>
<polygon points="278.72,375.8 279.43,377.93 281.67,377.94 279.86,379.27 280.54,381.41 278.72,380.1 276.9,381.41 277.58,379.27 275.77,377.94 278.02,377.93" fill="#0000e0" stroke="#000" stroke-width="0.9" stroke-linejoin="miter"/>
<polygon points="237.04,403.1 237.75,405.23 239.99,405.24 238.19,406.57 238.87,408.71 237.04,407.4 235.22,408.71 235.9,406.57 234.1,405.24 236.34,405.23" fill="#0000e0" stroke="#000" stroke-width="0.9" stroke-linejoin="miter"/>
<polygon points="195.37,428.1 196.07,430.23 198.32,430.24 196.51,431.57 197.19,433.71 195.37,432.4 193.55,433.71 194.23,431.57 192.42,430.24 194.66,430.23" fill="#0000e0" stroke="#000" stroke-width="0.9" stroke-linejoin="miter"/>
<polygon points="153.69,455.9 154.39,458.03 156.64,458.04 154.83,459.37 155.51,461.51 153.69,460.2 151.87,461.51 152.55,459.37 150.74,458.04 152.98,458.03" fill="#0000e0" stroke="#000" stroke-width="0.9" stroke-linejoin="miter"/>
<polygon points="112.01,485 112.72,487.13 114.96,487.14 113.15,488.47 113.83,490.61 112.01,489.3 110.19,490.61 110.87,488.47 109.06,487.14 111.31,487.13" fill="#0000e0" stroke="#000" stroke-width="0.9" stroke-linejoin="miter"/>
<polygon points="70.33,514.8 71.04,516.93 73.28,516.94 71.48,518.27 72.16,520.41 70.33,519.1 68.51,520.41 69.19,518.27 67.39,516.94 69.63,516.93" fill="#0000e0" stroke="#000" stroke-width="0.9" stroke-linejoin="miter"/>
<path d="M320.4 374L278.72 390L237.04 413.5L195.37 437L153.69 462.7L112.01 490.5L70.33 520.4" stroke="#008000" stroke-width="0.95" stroke-dasharray="3.8 3.4" fill="none"/>
<circle cx="320.4" cy="374" r="2.95" fill="#008000" stroke="#000" stroke-width="0.9"/>
<circle cx="278.72" cy="390" r="2.95" fill="#008000" stroke="#000" stroke-width="0.9"/>
<circle cx="237.04" cy="413.5" r="2.95" fill="#008000" stroke="#000" stroke-width="0.9"/>
<circle cx="195.37" cy="437" r="2.95" fill="#008000" stroke="#000" stroke-width="0.9"/>
<circle cx="153.69" cy="462.7" r="2.95" fill="#008000" stroke="#000" stroke-width="0.9"/>
<circle cx="112.01" cy="490.5" r="2.95" fill="#008000" stroke="#000" stroke-width="0.9"/>
<circle cx="70.33" cy="520.4" r="2.95" fill="#008000" stroke="#000" stroke-width="0.9"/>
<path d="M320.4 341.1L278.72 352.2L237.04 385L195.37 415.3L153.69 443L112.01 474.5L70.33 507.3" stroke="#000000" stroke-width="0.95" stroke-dasharray="3.8 3.4" fill="none"/>
<rect x="317" y="337.7" width="6.8" height="6.8" fill="#000"/>
<rect x="275.32" y="348.8" width="6.8" height="6.8" fill="#000"/>
<rect x="233.64" y="381.6" width="6.8" height="6.8" fill="#000"/>
<rect x="191.97" y="411.9" width="6.8" height="6.8" fill="#000"/>
<rect x="150.29" y="439.6" width="6.8" height="6.8" fill="#000"/>
<rect x="108.61" y="471.1" width="6.8" height="6.8" fill="#000"/>
<rect x="66.93" y="503.9" width="6.8" height="6.8" fill="#000"/>
<path d="M320.4 375.2L278.72 381.2L237.04 408L195.37 433L153.69 462.3L112.01 490.3L70.33 520" stroke="#000000" stroke-width="0.95" stroke-dasharray="3.8 3.4" fill="none"/>
<polygon points="320.4,371.75 323.97,374.34 322.6,378.53 318.2,378.53 316.83,374.34" fill="#000"/>
<polygon points="278.72,377.75 282.29,380.34 280.93,384.53 276.52,384.53 275.16,380.34" fill="#000"/>
<polygon points="237.04,404.55 240.61,407.14 239.25,411.33 234.84,411.33 233.48,407.14" fill="#000"/>
<polygon points="195.37,429.55 198.93,432.14 197.57,436.33 193.16,436.33 191.8,432.14" fill="#000"/>
<polygon points="153.69,458.85 157.26,461.44 155.89,465.63 151.49,465.63 150.12,461.44" fill="#000"/>
<polygon points="112.01,486.85 115.58,489.44 114.22,493.63 109.81,493.63 108.45,489.44" fill="#000"/>
<polygon points="70.33,516.55 73.9,519.14 72.54,523.33 68.13,523.33 66.77,519.14" fill="#000"/>
<path d="M320.4 395.8L278.72 393.6L237.04 413.3L195.37 429.4L153.69 468.6L112.01 497.2L70.33 526.6" stroke="#000000" stroke-width="0.95" stroke-dasharray="3.8 3.4" fill="none"/>
<polygon points="320.4,391.2 323.3,395.8 320.4,400.4 317.5,395.8" fill="#000"/>
<polygon points="278.72,389 281.62,393.6 278.72,398.2 275.82,393.6" fill="#000"/>
<polygon points="237.04,408.7 239.94,413.3 237.04,417.9 234.14,413.3" fill="#000"/>
<polygon points="195.37,424.8 198.27,429.4 195.37,434 192.47,429.4" fill="#000"/>
<polygon points="153.69,464 156.59,468.6 153.69,473.2 150.79,468.6" fill="#000"/>
<polygon points="112.01,492.6 114.91,497.2 112.01,501.8 109.11,497.2" fill="#000"/>
<polygon points="70.33,522 73.23,526.6 70.33,531.2 67.43,526.6" fill="#000"/>
<path d="M43.5 563.4v-2.6M43.5 305.4v2.6M85.18 563.4v-1.6M85.18 305.4v1.6M109.56 563.4v-1.6M109.56 305.4v1.6M126.86 563.4v-1.6M126.86 305.4v1.6M140.27 563.4v-1.6M140.27 305.4v1.6M151.24 563.4v-1.6M151.24 305.4v1.6M160.5 563.4v-1.6M160.5 305.4v1.6M168.53 563.4v-1.6M168.53 305.4v1.6M175.61 563.4v-1.6M175.61 305.4v1.6M181.95 563.4v-2.6M181.95 305.4v2.6M223.63 563.4v-1.6M223.63 305.4v1.6M248.01 563.4v-1.6M248.01 305.4v1.6M265.31 563.4v-1.6M265.31 305.4v1.6M278.72 563.4v-1.6M278.72 305.4v1.6M289.69 563.4v-1.6M289.69 305.4v1.6M298.95 563.4v-1.6M298.95 305.4v1.6M306.98 563.4v-1.6M306.98 305.4v1.6M314.06 563.4v-1.6M314.06 305.4v1.6M320.4 563.4v-2.6M320.4 305.4v2.6M43.5 563.4h2.6M331.5 563.4h-2.6M43.5 471.5h1.6M331.5 471.5h-1.6M43.5 417.74h1.6M331.5 417.74h-1.6M43.5 379.6h1.6M331.5 379.6h-1.6M43.5 350.01h1.6M331.5 350.01h-1.6M43.5 325.84h1.6M331.5 325.84h-1.6M43.5 305.4h1.6M331.5 305.4h-1.6" stroke="#000" stroke-width="0.8" fill="none"/>
<rect x="47.7" y="309.7" width="147" height="88.6" fill="#fff" stroke="#444" stroke-width="1"/>
<path d="M54.1 316.1H65.8" stroke="#ff0000" stroke-width="0.95" stroke-dasharray="3.8 3.4" fill="none"/>
<path d="M50.7 316.1H57.5M54.1 312.7V319.5" stroke="#ff0000" stroke-width="0.95" fill="none"/>
<path d="M62.4 316.1H69.2M65.8 312.7V319.5" stroke="#ff0000" stroke-width="0.95" fill="none"/>
<text y="318.2" font-family='"Liberation Sans", sans-serif' font-size="8.6" fill="#000" stroke="#000" stroke-width="0.2"><tspan x="76.1">Penalization,</tspan><tspan x="126.9" dy="0" font-family='"Liberation Serif", serif' font-size="8.8" fill="#2e2e2e" stroke="none" font-style="italic">γ</tspan><tspan x="131.3" dy="1.5" font-family='"Liberation Serif", serif' font-size="6.2" fill="#2e2e2e" stroke="none">0</tspan><tspan x="145.8" dy="-1.5" font-family='"Liberation Serif", serif' font-size="8.8" fill="#2e2e2e" stroke="none">1</tspan></text>
<path d="M54.1 328.3H65.8" stroke="#ff0000" stroke-width="0.95" stroke-dasharray="3.8 3.4" fill="none"/>
<path d="M51 325.2L57.2 331.4M51 331.4L57.2 325.2" stroke="#ff0000" stroke-width="0.95" fill="none"/>
<path d="M62.7 325.2L68.9 331.4M62.7 331.4L68.9 325.2" stroke="#ff0000" stroke-width="0.95" fill="none"/>
<text y="330.2" font-family='"Liberation Sans", sans-serif' font-size="8.6" fill="#000" stroke="#000" stroke-width="0.2"><tspan x="76.1">Penalization,</tspan><tspan x="126.9" dy="0" font-family='"Liberation Serif", serif' font-size="8.8" fill="#2e2e2e" stroke="none" font-style="italic">γ</tspan><tspan x="131.3" dy="1.5" font-family='"Liberation Serif", serif' font-size="6.2" fill="#2e2e2e" stroke="none">0</tspan><tspan x="145.8" dy="-1.5" font-family='"Liberation Serif", serif' font-size="8.8" fill="#2e2e2e" stroke="none">5</tspan></text>
<path d="M54.1 340.8H65.8" stroke="#0000ff" stroke-width="0.95" stroke-dasharray="3.8 3.4" fill="none"/>
<polygon points="54.1,337.9 54.81,340.03 57.05,340.04 55.24,341.37 55.92,343.51 54.1,342.2 52.28,343.51 52.96,341.37 51.15,340.04 53.39,340.03" fill="#0000e0" stroke="#000" stroke-width="0.9" stroke-linejoin="miter"/>
<polygon points="65.8,337.9 66.51,340.03 68.75,340.04 66.94,341.37 67.62,343.51 65.8,342.2 63.98,343.51 64.66,341.37 62.85,340.04 65.09,340.03" fill="#0000e0" stroke="#000" stroke-width="0.9" stroke-linejoin="miter"/>
<text y="343.8" font-family='"Liberation Sans", sans-serif' font-size="8.6" fill="#000" stroke="#000" stroke-width="0.2"><tspan x="76.1" textLength="114.3" lengthAdjust="spacingAndGlyphs">Paoli-Schatzman method, e=0</tspan></text>
<path d="M54.1 352.9H65.8" stroke="#008000" stroke-width="0.95" stroke-dasharray="3.8 3.4" fill="none"/>
<circle cx="54.1" cy="352.9" r="2.95" fill="#008000" stroke="#000" stroke-width="0.9"/>
<circle cx="65.8" cy="352.9" r="2.95" fill="#008000" stroke="#000" stroke-width="0.9"/>
<text y="355.6" font-family='"Liberation Sans", sans-serif' font-size="8.6" fill="#000" stroke="#000" stroke-width="0.2"><tspan x="76.1" textLength="98.6" lengthAdjust="spacingAndGlyphs">Redistributed mass matrix</tspan></text>
<path d="M54.1 364.5H65.8" stroke="#000000" stroke-width="0.95" stroke-dasharray="3.8 3.4" fill="none"/>
<rect x="50.7" y="361.1" width="6.8" height="6.8" fill="#000"/>
<rect x="62.4" y="361.1" width="6.8" height="6.8" fill="#000"/>
<text y="367" font-family='"Liberation Sans", sans-serif' font-size="8.6" fill="#000" stroke="#000" stroke-width="0.2"><tspan x="76.1">Nitsche,</tspan><tspan x="108.9" dy="0" font-family='"Liberation Serif", serif' font-size="8.8" fill="#2e2e2e" stroke="none">Θ</tspan><tspan x="127" dy="0" font-family='"Liberation Serif", serif' font-size="8.8" fill="#2e2e2e" stroke="none">0,</tspan><tspan x="135" dy="0" font-family='"Liberation Serif", serif' font-size="8.8" fill="#2e2e2e" stroke="none" font-style="italic">γ</tspan><tspan x="139.4" dy="1.5" font-family='"Liberation Serif", serif' font-size="6.2" fill="#2e2e2e" stroke="none">0</tspan><tspan x="153.9" dy="-1.5" font-family='"Liberation Serif", serif' font-size="8.8" fill="#2e2e2e" stroke="none">1</tspan></text>
<path d="M54.1 377H65.8" stroke="#000000" stroke-width="0.95" stroke-dasharray="3.8 3.4" fill="none"/>
<polygon points="54.1,373.55 57.67,376.14 56.3,380.33 51.9,380.33 50.53,376.14" fill="#000"/>
<polygon points="65.8,373.55 69.37,376.14 68,380.33 63.6,380.33 62.23,376.14" fill="#000"/>
<text y="379.3" font-family='"Liberation Sans", sans-serif' font-size="8.6" fill="#000" stroke="#000" stroke-width="0.2"><tspan x="76.1">Nitsche,</tspan><tspan x="108.9" dy="0" font-family='"Liberation Serif", serif' font-size="8.8" fill="#2e2e2e" stroke="none">Θ</tspan><tspan x="127" dy="0" font-family='"Liberation Serif", serif' font-size="8.8" fill="#2e2e2e" stroke="none">1,</tspan><tspan x="135" dy="0" font-family='"Liberation Serif", serif' font-size="8.8" fill="#2e2e2e" stroke="none" font-style="italic">γ</tspan><tspan x="139.4" dy="1.5" font-family='"Liberation Serif", serif' font-size="6.2" fill="#2e2e2e" stroke="none">0</tspan><tspan x="153.9" dy="-1.5" font-family='"Liberation Serif", serif' font-size="8.8" fill="#2e2e2e" stroke="none">2</tspan></text>
<path d="M54.1 389.7H65.8" stroke="#000000" stroke-width="0.95" stroke-dasharray="3.8 3.4" fill="none"/>
<polygon points="54.1,385.1 57,389.7 54.1,394.3 51.2,389.7" fill="#000"/>
<polygon points="65.8,385.1 68.7,389.7 65.8,394.3 62.9,389.7" fill="#000"/>
<text y="391.7" font-family='"Liberation Sans", sans-serif' font-size="8.6" fill="#000" stroke="#000" stroke-width="0.2"><tspan x="76.1">Nitsche,</tspan><tspan x="108.9" dy="0" font-family='"Liberation Serif", serif' font-size="8.8" fill="#2e2e2e" stroke="none">Θ</tspan><tspan x="127" dy="0" font-family='"Liberation Serif", serif' font-size="8.8" fill="#2e2e2e" stroke="none">1,</tspan><tspan x="135" dy="0" font-family='"Liberation Serif", serif' font-size="8.8" fill="#2e2e2e" stroke="none" font-style="italic">γ</tspan><tspan x="139.4" dy="1.5" font-family='"Liberation Serif", serif' font-size="6.2" fill="#2e2e2e" stroke="none">0</tspan><tspan x="153.9" dy="-1.5" font-family='"Liberation Serif", serif' font-size="8.8" fill="#2e2e2e" stroke="none">1.5</tspan><tspan x="165.5">, lump</tspan></text>
<path d="M145.2 388.4h5.2M145.2 390.5h5.2" stroke="#2e2e2e" stroke-width="0.6" fill="none"/>
<path d="M118.1 388.4h5.2M118.1 390.5h5.2" stroke="#2e2e2e" stroke-width="0.6" fill="none"/>
<path d="M145.2 376h5.2M145.2 378.1h5.2" stroke="#2e2e2e" stroke-width="0.6" fill="none"/>
<path d="M118.1 376h5.2M118.1 378.1h5.2" stroke="#2e2e2e" stroke-width="0.6" fill="none"/>
<path d="M145.2 363.7h5.2M145.2 365.8h5.2" stroke="#2e2e2e" stroke-width="0.6" fill="none"/>
<path d="M118.1 363.7h5.2M118.1 365.8h5.2" stroke="#2e2e2e" stroke-width="0.6" fill="none"/>
<path d="M137.1 326.9h5.2M137.1 329h5.2" stroke="#2e2e2e" stroke-width="0.6" fill="none"/>
<path d="M137.1 314.9h5.2M137.1 317h5.2" stroke="#2e2e2e" stroke-width="0.6" fill="none"/>
<rect x="43.5" y="305.4" width="288" height="258" fill="none" stroke="#2a2a2a" stroke-width="0.95"/>
<text x="41" y="563.8" text-anchor="end" font-family='"Liberation Sans", sans-serif' font-size="11.5" fill="#000" stroke="#000" stroke-width="0.25">10%</text>
<text x="43.2" y="577.4" text-anchor="middle" font-family='"Liberation Serif", serif' font-size="12.6" fill="#2e2e2e">10<tspan font-size="9" dy="-4.5">−3</tspan></text>
<text x="181.65" y="577.4" text-anchor="middle" font-family='"Liberation Serif", serif' font-size="12.6" fill="#2e2e2e">10<tspan font-size="9" dy="-4.5">−2</tspan></text>
<text x="320.1" y="577.4" text-anchor="middle" font-family='"Liberation Serif", serif' font-size="12.6" fill="#2e2e2e">10<tspan font-size="9" dy="-4.5">−1</tspan></text>
<path d="M178.9 586.7h8.6M178.9 589.7h8.6" stroke="#2e2e2e" stroke-width="0.75" fill="none"/>
<text y="591.5" font-family='"Liberation Serif", serif' font-size="12.8" fill="#2e2e2e"><tspan x="155.8" font-style="italic">h</tspan><tspan x="166.1">(</tspan><tspan x="169.9" font-style="italic">τ</tspan><tspan x="191.8" font-style="italic">h</tspan><tspan x="198.4" textLength="5" lengthAdjust="spacingAndGlyphs">/</tspan><tspan x="204">10</tspan><tspan x="215.4">)</tspan></text>
<g transform="translate(11.6 506.9) rotate(-90)">
<text x="0" y="0" font-family='"Liberation Serif", serif' font-size="13.8" fill="#2e2e2e" textLength="79.8" lengthAdjust="spacingAndGlyphs"><tspan font-style="italic">L</tspan><tspan font-size="9.4" dy="-5">2</tspan><tspan dy="5" font-size="2"> </tspan>(0,<tspan font-style="italic"> T,</tspan><tspan font-style="italic"> L</tspan><tspan font-size="9.4" dy="-5">2</tspan><tspan dy="5" font-size="2"> </tspan>(0, 1))</text>
<text x="80.6" y="0" font-family='"Liberation Sans", sans-serif' font-size="12" fill="#000" stroke="#000" stroke-width="0.12" textLength="46.2" lengthAdjust="spacingAndGlyphs">-error on</text>
<text x="130.2" y="0" font-family='"Liberation Serif", serif' font-size="13.8" fill="#2e2e2e" textLength="17" lengthAdjust="spacingAndGlyphs">∂<tspan font-size="9.4" dy="2.2" font-style="italic">t</tspan><tspan dy="-2.2" font-size="1"> </tspan><tspan font-style="italic">u</tspan></text>
</g>
<polygon points="492.6,515.9 565.2,515.9 565.2,469.7" fill="#cbcbcb"/>
<text x="529.3" y="533.5" text-anchor="middle" font-family='"Liberation Sans", sans-serif' font-size="7.4" fill="#000" stroke="#000" stroke-width="0.15">1</text>
<text x="589.9" y="494.8" text-anchor="middle" font-family='"Liberation Sans", sans-serif' font-size="7.4" fill="#000" stroke="#000" stroke-width="0.15">0.33</text>
<path d="M673.4 364.3L631.72 400.4L590.04 431.7L548.37 462L506.69 486.6L465.01 510.6L423.33 533" stroke="#ff0000" stroke-width="0.95" stroke-dasharray="3.8 3.4" fill="none"/>
<path d="M670 364.3H676.8M673.4 360.9V367.7" stroke="#ff0000" stroke-width="0.95" fill="none"/>
<path d="M628.32 400.4H635.12M631.72 397V403.8" stroke="#ff0000" stroke-width="0.95" fill="none"/>
<path d="M586.64 431.7H593.44M590.04 428.3V435.1" stroke="#ff0000" stroke-width="0.95" fill="none"/>
<path d="M544.97 462H551.77M548.37 458.6V465.4" stroke="#ff0000" stroke-width="0.95" fill="none"/>
<path d="M503.29 486.6H510.09M506.69 483.2V490" stroke="#ff0000" stroke-width="0.95" fill="none"/>
<path d="M461.61 510.6H468.41M465.01 507.2V514" stroke="#ff0000" stroke-width="0.95" fill="none"/>
<path d="M419.93 533H426.73M423.33 529.6V536.4" stroke="#ff0000" stroke-width="0.95" fill="none"/>
<path d="M673.4 320.2L631.72 355L590.04 373.1L548.37 389.8L506.69 390.5L465.01 391.2L423.33 405.2" stroke="#ff0000" stroke-width="0.95" stroke-dasharray="3.8 3.4" fill="none"/>
<path d="M670.3 317.1L676.5 323.3M670.3 323.3L676.5 317.1" stroke="#ff0000" stroke-width="0.95" fill="none"/>
<path d="M628.62 351.9L634.82 358.1M628.62 358.1L634.82 351.9" stroke="#ff0000" stroke-width="0.95" fill="none"/>
<path d="M586.94 370L593.14 376.2M586.94 376.2L593.14 370" stroke="#ff0000" stroke-width="0.95" fill="none"/>
<path d="M545.27 386.7L551.47 392.9M545.27 392.9L551.47 386.7" stroke="#ff0000" stroke-width="0.95" fill="none"/>
<path d="M503.59 387.4L509.79 393.6M503.59 393.6L509.79 387.4" stroke="#ff0000" stroke-width="0.95" fill="none"/>
<path d="M461.91 388.1L468.11 394.3M461.91 394.3L468.11 388.1" stroke="#ff0000" stroke-width="0.95" fill="none"/>
<path d="M420.23 402.1L426.43 408.3M420.23 408.3L426.43 402.1" stroke="#ff0000" stroke-width="0.95" fill="none"/>
<path d="M673.4 366L631.72 392.5L590.04 417.5L548.37 442.5L506.69 466.8L465.01 492.6L423.33 518.8" stroke="#0000ff" stroke-width="0.95" stroke-dasharray="3.8 3.4" fill="none"/>
<polygon points="673.4,363.1 674.11,365.23 676.35,365.24 674.54,366.57 675.22,368.71 673.4,367.4 671.58,368.71 672.26,366.57 670.45,365.24 672.69,365.23" fill="#0000e0" stroke="#000" stroke-width="0.9" stroke-linejoin="miter"/>
<polygon points="631.72,389.6 632.43,391.73 634.67,391.74 632.86,393.07 633.54,395.21 631.72,393.9 629.9,395.21 630.58,393.07 628.77,391.74 631.02,391.73" fill="#0000e0" stroke="#000" stroke-width="0.9" stroke-linejoin="miter"/>
<polygon points="590.04,414.6 590.75,416.73 592.99,416.74 591.19,418.07 591.87,420.21 590.04,418.9 588.22,420.21 588.9,418.07 587.1,416.74 589.34,416.73" fill="#0000e0" stroke="#000" stroke-width="0.9" stroke-linejoin="miter"/>
<polygon points="548.37,439.6 549.07,441.73 551.32,441.74 549.51,443.07 550.19,445.21 548.37,443.9 546.55,445.21 547.23,443.07 545.42,441.74 547.66,441.73" fill="#0000e0" stroke="#000" stroke-width="0.9" stroke-linejoin="miter"/>
<polygon points="506.69,463.9 507.39,466.03 509.64,466.04 507.83,467.37 508.51,469.51 506.69,468.2 504.87,469.51 505.55,467.37 503.74,466.04 505.98,466.03" fill="#0000e0" stroke="#000" stroke-width="0.9" stroke-linejoin="miter"/>
<polygon points="465.01,489.7 465.72,491.83 467.96,491.84 466.15,493.17 466.83,495.31 465.01,494 463.19,495.31 463.87,493.17 462.06,491.84 464.31,491.83" fill="#0000e0" stroke="#000" stroke-width="0.9" stroke-linejoin="miter"/>
<polygon points="423.33,515.9 424.04,518.03 426.28,518.04 424.48,519.37 425.16,521.51 423.33,520.2 421.51,521.51 422.19,519.37 420.39,518.04 422.63,518.03" fill="#0000e0" stroke="#000" stroke-width="0.9" stroke-linejoin="miter"/>
<path d="M673.4 385.2L631.72 400.4L590.04 419.8L548.37 442L506.69 466.4L465.01 492.4L423.33 518.6" stroke="#008000" stroke-width="0.95" stroke-dasharray="3.8 3.4" fill="none"/>
<circle cx="673.4" cy="385.2" r="2.95" fill="#008000" stroke="#000" stroke-width="0.9"/>
<circle cx="631.72" cy="400.4" r="2.95" fill="#008000" stroke="#000" stroke-width="0.9"/>
<circle cx="590.04" cy="419.8" r="2.95" fill="#008000" stroke="#000" stroke-width="0.9"/>
<circle cx="548.37" cy="442" r="2.95" fill="#008000" stroke="#000" stroke-width="0.9"/>
<circle cx="506.69" cy="466.4" r="2.95" fill="#008000" stroke="#000" stroke-width="0.9"/>
<circle cx="465.01" cy="492.4" r="2.95" fill="#008000" stroke="#000" stroke-width="0.9"/>
<circle cx="423.33" cy="518.6" r="2.95" fill="#008000" stroke="#000" stroke-width="0.9"/>
<path d="M673.4 371.5L631.72 386.5L590.04 411L548.37 434.9L506.69 461.4L465.01 488.4L423.33 515.1" stroke="#000000" stroke-width="0.95" stroke-dasharray="3.8 3.4" fill="none"/>
<rect x="670" y="368.1" width="6.8" height="6.8" fill="#000"/>
<rect x="628.32" y="383.1" width="6.8" height="6.8" fill="#000"/>
<rect x="586.64" y="407.6" width="6.8" height="6.8" fill="#000"/>
<rect x="544.97" y="431.5" width="6.8" height="6.8" fill="#000"/>
<rect x="503.29" y="458" width="6.8" height="6.8" fill="#000"/>
<rect x="461.61" y="485" width="6.8" height="6.8" fill="#000"/>
<rect x="419.93" y="511.7" width="6.8" height="6.8" fill="#000"/>
<path d="M673.4 372.5L631.72 375.7L590.04 397.4L548.37 424.3L506.69 450L465.01 479L423.33 508.2" stroke="#000000" stroke-width="0.95" stroke-dasharray="3.8 3.4" fill="none"/>
<polygon points="673.4,369.05 676.97,371.64 675.6,375.83 671.2,375.83 669.83,371.64" fill="#000"/>
<polygon points="631.72,372.25 635.29,374.84 633.93,379.03 629.52,379.03 628.16,374.84" fill="#000"/>
<polygon points="590.04,393.95 593.61,396.54 592.25,400.73 587.84,400.73 586.48,396.54" fill="#000"/>
<polygon points="548.37,420.85 551.93,423.44 550.57,427.63 546.16,427.63 544.8,423.44" fill="#000"/>
<polygon points="506.69,446.55 510.26,449.14 508.89,453.33 504.49,453.33 503.12,449.14" fill="#000"/>
<polygon points="465.01,475.55 468.58,478.14 467.22,482.33 462.81,482.33 461.45,478.14" fill="#000"/>
<polygon points="423.33,504.75 426.9,507.34 425.54,511.53 421.13,511.53 419.77,507.34" fill="#000"/>
<path d="M673.4 370.5L631.72 391.5L590.04 408L548.37 407.7L506.69 429.9L465.01 440.5L423.33 448.8" stroke="#000000" stroke-width="0.95" stroke-dasharray="3.8 3.4" fill="none"/>
<polygon points="673.4,365.9 676.3,370.5 673.4,375.1 670.5,370.5" fill="#000"/>
<polygon points="631.72,386.9 634.62,391.5 631.72,396.1 628.82,391.5" fill="#000"/>
<polygon points="590.04,403.4 592.94,408 590.04,412.6 587.14,408" fill="#000"/>
<polygon points="548.37,403.1 551.27,407.7 548.37,412.3 545.47,407.7" fill="#000"/>
<polygon points="506.69,425.3 509.59,429.9 506.69,434.5 503.79,429.9" fill="#000"/>
<polygon points="465.01,435.9 467.91,440.5 465.01,445.1 462.11,440.5" fill="#000"/>
<polygon points="423.33,444.2 426.23,448.8 423.33,453.4 420.43,448.8" fill="#000"/>
<path d="M396.5 563.4v-2.6M396.5 305.4v2.6M438.18 563.4v-1.6M438.18 305.4v1.6M462.56 563.4v-1.6M462.56 305.4v1.6M479.86 563.4v-1.6M479.86 305.4v1.6M493.27 563.4v-1.6M493.27 305.4v1.6M504.24 563.4v-1.6M504.24 305.4v1.6M513.5 563.4v-1.6M513.5 305.4v1.6M521.53 563.4v-1.6M521.53 305.4v1.6M528.61 563.4v-1.6M528.61 305.4v1.6M534.95 563.4v-2.6M534.95 305.4v2.6M576.63 563.4v-1.6M576.63 305.4v1.6M601.01 563.4v-1.6M601.01 305.4v1.6M618.31 563.4v-1.6M618.31 305.4v1.6M631.72 563.4v-1.6M631.72 305.4v1.6M642.69 563.4v-1.6M642.69 305.4v1.6M651.95 563.4v-1.6M651.95 305.4v1.6M659.98 563.4v-1.6M659.98 305.4v1.6M667.06 563.4v-1.6M667.06 305.4v1.6M673.4 563.4v-2.6M673.4 305.4v2.6M396.5 563.4h2.6M684.5 563.4h-2.6M396.5 482.01h1.6M684.5 482.01h-1.6M396.5 434.4h1.6M684.5 434.4h-1.6M396.5 400.62h1.6M684.5 400.62h-1.6M396.5 374.42h1.6M684.5 374.42h-1.6M396.5 353.01h1.6M684.5 353.01h-1.6M396.5 334.91h1.6M684.5 334.91h-1.6M396.5 319.23h1.6M684.5 319.23h-1.6M396.5 305.4h1.6M684.5 305.4h-1.6" stroke="#000" stroke-width="0.8" fill="none"/>
<rect x="400.7" y="309.7" width="147" height="88.6" fill="#fff" stroke="#444" stroke-width="1"/>
<path d="M407.1 316.1H418.8" stroke="#ff0000" stroke-width="0.95" stroke-dasharray="3.8 3.4" fill="none"/>
<path d="M403.7 316.1H410.5M407.1 312.7V319.5" stroke="#ff0000" stroke-width="0.95" fill="none"/>
<path d="M415.4 316.1H422.2M418.8 312.7V319.5" stroke="#ff0000" stroke-width="0.95" fill="none"/>
<text y="318.2" font-family='"Liberation Sans", sans-serif' font-size="8.6" fill="#000" stroke="#000" stroke-width="0.2"><tspan x="429.1">Penalization,</tspan><tspan x="479.9" dy="0" font-family='"Liberation Serif", serif' font-size="8.8" fill="#2e2e2e" stroke="none" font-style="italic">γ</tspan><tspan x="484.3" dy="1.5" font-family='"Liberation Serif", serif' font-size="6.2" fill="#2e2e2e" stroke="none">0</tspan><tspan x="498.8" dy="-1.5" font-family='"Liberation Serif", serif' font-size="8.8" fill="#2e2e2e" stroke="none">1</tspan></text>
<path d="M407.1 328.3H418.8" stroke="#ff0000" stroke-width="0.95" stroke-dasharray="3.8 3.4" fill="none"/>
<path d="M404 325.2L410.2 331.4M404 331.4L410.2 325.2" stroke="#ff0000" stroke-width="0.95" fill="none"/>
<path d="M415.7 325.2L421.9 331.4M415.7 331.4L421.9 325.2" stroke="#ff0000" stroke-width="0.95" fill="none"/>
<text y="330.2" font-family='"Liberation Sans", sans-serif' font-size="8.6" fill="#000" stroke="#000" stroke-width="0.2"><tspan x="429.1">Penalization,</tspan><tspan x="479.9" dy="0" font-family='"Liberation Serif", serif' font-size="8.8" fill="#2e2e2e" stroke="none" font-style="italic">γ</tspan><tspan x="484.3" dy="1.5" font-family='"Liberation Serif", serif' font-size="6.2" fill="#2e2e2e" stroke="none">0</tspan><tspan x="498.8" dy="-1.5" font-family='"Liberation Serif", serif' font-size="8.8" fill="#2e2e2e" stroke="none">5</tspan></text>
<path d="M407.1 340.8H418.8" stroke="#0000ff" stroke-width="0.95" stroke-dasharray="3.8 3.4" fill="none"/>
<polygon points="407.1,337.9 407.81,340.03 410.05,340.04 408.24,341.37 408.92,343.51 407.1,342.2 405.28,343.51 405.96,341.37 404.15,340.04 406.39,340.03" fill="#0000e0" stroke="#000" stroke-width="0.9" stroke-linejoin="miter"/>
<polygon points="418.8,337.9 419.51,340.03 421.75,340.04 419.94,341.37 420.62,343.51 418.8,342.2 416.98,343.51 417.66,341.37 415.85,340.04 418.09,340.03" fill="#0000e0" stroke="#000" stroke-width="0.9" stroke-linejoin="miter"/>
<text y="343.8" font-family='"Liberation Sans", sans-serif' font-size="8.6" fill="#000" stroke="#000" stroke-width="0.2"><tspan x="429.1" textLength="114.3" lengthAdjust="spacingAndGlyphs">Paoli-Schatzman method, e=0</tspan></text>
<path d="M407.1 352.9H418.8" stroke="#008000" stroke-width="0.95" stroke-dasharray="3.8 3.4" fill="none"/>
<circle cx="407.1" cy="352.9" r="2.95" fill="#008000" stroke="#000" stroke-width="0.9"/>
<circle cx="418.8" cy="352.9" r="2.95" fill="#008000" stroke="#000" stroke-width="0.9"/>
<text y="355.6" font-family='"Liberation Sans", sans-serif' font-size="8.6" fill="#000" stroke="#000" stroke-width="0.2"><tspan x="429.1" textLength="98.6" lengthAdjust="spacingAndGlyphs">Redistributed mass matrix</tspan></text>
<path d="M407.1 364.5H418.8" stroke="#000000" stroke-width="0.95" stroke-dasharray="3.8 3.4" fill="none"/>
<rect x="403.7" y="361.1" width="6.8" height="6.8" fill="#000"/>
<rect x="415.4" y="361.1" width="6.8" height="6.8" fill="#000"/>
<text y="367" font-family='"Liberation Sans", sans-serif' font-size="8.6" fill="#000" stroke="#000" stroke-width="0.2"><tspan x="429.1">Nitsche,</tspan><tspan x="461.9" dy="0" font-family='"Liberation Serif", serif' font-size="8.8" fill="#2e2e2e" stroke="none">Θ</tspan><tspan x="480" dy="0" font-family='"Liberation Serif", serif' font-size="8.8" fill="#2e2e2e" stroke="none">0,</tspan><tspan x="488" dy="0" font-family='"Liberation Serif", serif' font-size="8.8" fill="#2e2e2e" stroke="none" font-style="italic">γ</tspan><tspan x="492.4" dy="1.5" font-family='"Liberation Serif", serif' font-size="6.2" fill="#2e2e2e" stroke="none">0</tspan><tspan x="506.9" dy="-1.5" font-family='"Liberation Serif", serif' font-size="8.8" fill="#2e2e2e" stroke="none">1</tspan></text>
<path d="M407.1 377H418.8" stroke="#000000" stroke-width="0.95" stroke-dasharray="3.8 3.4" fill="none"/>
<polygon points="407.1,373.55 410.67,376.14 409.3,380.33 404.9,380.33 403.53,376.14" fill="#000"/>
<polygon points="418.8,373.55 422.37,376.14 421,380.33 416.6,380.33 415.23,376.14" fill="#000"/>
<text y="379.3" font-family='"Liberation Sans", sans-serif' font-size="8.6" fill="#000" stroke="#000" stroke-width="0.2"><tspan x="429.1">Nitsche,</tspan><tspan x="461.9" dy="0" font-family='"Liberation Serif", serif' font-size="8.8" fill="#2e2e2e" stroke="none">Θ</tspan><tspan x="480" dy="0" font-family='"Liberation Serif", serif' font-size="8.8" fill="#2e2e2e" stroke="none">1,</tspan><tspan x="488" dy="0" font-family='"Liberation Serif", serif' font-size="8.8" fill="#2e2e2e" stroke="none" font-style="italic">γ</tspan><tspan x="492.4" dy="1.5" font-family='"Liberation Serif", serif' font-size="6.2" fill="#2e2e2e" stroke="none">0</tspan><tspan x="506.9" dy="-1.5" font-family='"Liberation Serif", serif' font-size="8.8" fill="#2e2e2e" stroke="none">2</tspan></text>
<path d="M407.1 389.7H418.8" stroke="#000000" stroke-width="0.95" stroke-dasharray="3.8 3.4" fill="none"/>
<polygon points="407.1,385.1 410,389.7 407.1,394.3 404.2,389.7" fill="#000"/>
<polygon points="418.8,385.1 421.7,389.7 418.8,394.3 415.9,389.7" fill="#000"/>
<text y="391.7" font-family='"Liberation Sans", sans-serif' font-size="8.6" fill="#000" stroke="#000" stroke-width="0.2"><tspan x="429.1">Nitsche,</tspan><tspan x="461.9" dy="0" font-family='"Liberation Serif", serif' font-size="8.8" fill="#2e2e2e" stroke="none">Θ</tspan><tspan x="480" dy="0" font-family='"Liberation Serif", serif' font-size="8.8" fill="#2e2e2e" stroke="none">1,</tspan><tspan x="488" dy="0" font-family='"Liberation Serif", serif' font-size="8.8" fill="#2e2e2e" stroke="none" font-style="italic">γ</tspan><tspan x="492.4" dy="1.5" font-family='"Liberation Serif", serif' font-size="6.2" fill="#2e2e2e" stroke="none">0</tspan><tspan x="506.9" dy="-1.5" font-family='"Liberation Serif", serif' font-size="8.8" fill="#2e2e2e" stroke="none">1.5</tspan><tspan x="518.5">, lump</tspan></text>
<path d="M498.2 388.4h5.2M498.2 390.5h5.2" stroke="#2e2e2e" stroke-width="0.6" fill="none"/>
<path d="M471.1 388.4h5.2M471.1 390.5h5.2" stroke="#2e2e2e" stroke-width="0.6" fill="none"/>
<path d="M498.2 376h5.2M498.2 378.1h5.2" stroke="#2e2e2e" stroke-width="0.6" fill="none"/>
<path d="M471.1 376h5.2M471.1 378.1h5.2" stroke="#2e2e2e" stroke-width="0.6" fill="none"/>
<path d="M498.2 363.7h5.2M498.2 365.8h5.2" stroke="#2e2e2e" stroke-width="0.6" fill="none"/>
<path d="M471.1 363.7h5.2M471.1 365.8h5.2" stroke="#2e2e2e" stroke-width="0.6" fill="none"/>
<path d="M490.1 326.9h5.2M490.1 329h5.2" stroke="#2e2e2e" stroke-width="0.6" fill="none"/>
<path d="M490.1 314.9h5.2M490.1 317h5.2" stroke="#2e2e2e" stroke-width="0.6" fill="none"/>
<rect x="396.5" y="305.4" width="288" height="258" fill="none" stroke="#2a2a2a" stroke-width="0.95"/>
<text x="394" y="563.8" text-anchor="end" font-family='"Liberation Sans", sans-serif' font-size="11.5" fill="#000" stroke="#000" stroke-width="0.25">10%</text>
<text x="396.2" y="577.4" text-anchor="middle" font-family='"Liberation Serif", serif' font-size="12.6" fill="#2e2e2e">10<tspan font-size="9" dy="-4.5">−3</tspan></text>
<text x="534.65" y="577.4" text-anchor="middle" font-family='"Liberation Serif", serif' font-size="12.6" fill="#2e2e2e">10<tspan font-size="9" dy="-4.5">−2</tspan></text>
<text x="673.1" y="577.4" text-anchor="middle" font-family='"Liberation Serif", serif' font-size="12.6" fill="#2e2e2e">10<tspan font-size="9" dy="-4.5">−1</tspan></text>
<path d="M531.9 586.7h8.6M531.9 589.7h8.6" stroke="#2e2e2e" stroke-width="0.75" fill="none"/>
<text y="591.5" font-family='"Liberation Serif", serif' font-size="12.8" fill="#2e2e2e"><tspan x="508.8" font-style="italic">h</tspan><tspan x="519.1">(</tspan><tspan x="522.9" font-style="italic">τ</tspan><tspan x="544.8" font-style="italic">h</tspan><tspan x="551.4" textLength="5" lengthAdjust="spacingAndGlyphs">/</tspan><tspan x="557">10</tspan><tspan x="568.4">)</tspan></text>
<g transform="translate(372 498.5) rotate(-90)">
<text x="0" y="0" font-family='"Liberation Serif", serif' font-size="13.8" fill="#2e2e2e" textLength="38.4" lengthAdjust="spacingAndGlyphs"><tspan font-style="italic">L</tspan><tspan font-size="9.4" dy="-5">2</tspan><tspan dy="5" font-size="2"> </tspan>(0,<tspan font-style="italic"> T</tspan>)</text>
<text x="39.2" y="0" font-family='"Liberation Sans", sans-serif' font-size="12" fill="#000" stroke="#000" stroke-width="0.12" textLength="46.2" lengthAdjust="spacingAndGlyphs">-error on</text>
<text x="87.2" y="0" font-family='"Liberation Serif", serif' font-size="13.8" fill="#2e2e2e" textLength="42" lengthAdjust="spacingAndGlyphs">∂<tspan font-size="9.4" dy="2.2" font-style="italic">x</tspan><tspan dy="-2.2" font-size="1"> </tspan><tspan font-style="italic">u</tspan>(<tspan font-style="italic">t</tspan>, 0)</text>
</g>
</g>
</svg>
</body></html>
